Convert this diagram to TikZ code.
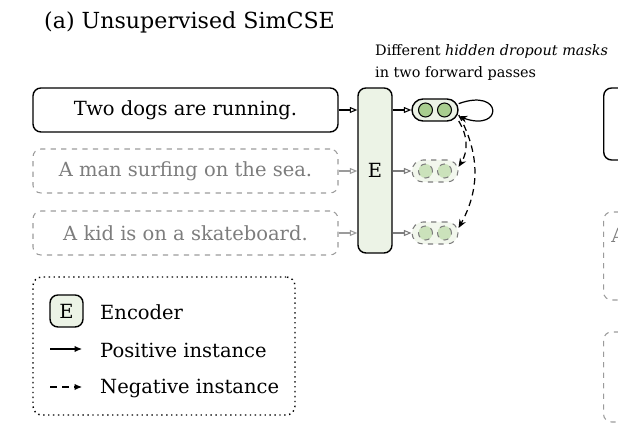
\documentclass[tikz,border=0pt]{standalone}
\usepackage{fontspec}
\setmainfont{DejaVu Serif}
\usetikzlibrary{arrows.meta,positioning,calc}
\definecolor{encgreen}{RGB}{236,243,230}
\definecolor{dotgreen}{RGB}{168,206,142}
\definecolor{softgray}{RGB}{125,125,125}
\definecolor{linegray}{RGB}{155,155,155}

\begin{document}
\begin{tikzpicture}[>={Stealth[length=1.7mm,width=1.4mm]}, every node/.style={font=\fontsize{11.1}{13}\selectfont},
 sent/.style={draw,line width=0.8pt,rounded corners=4.5pt,minimum width=6.1cm,minimum height=0.88cm},
 negsent/.style={sent,draw=linegray,line width=0.6pt,dashed,text=softgray},
 enc/.style={draw,line width=0.8pt,rounded corners=4.5pt,fill=encgreen,inner sep=0pt},
 pill/.style={draw,line width=0.8pt,rounded corners=0.22cm,fill=encgreen,minimum width=0.92cm,minimum height=0.44cm,inner sep=0pt},
 negpill/.style={pill,draw=softgray,line width=0.6pt,dashed,fill=encgreen!70},
 dot/.style={circle,draw,line width=0.6pt,fill=dotgreen,minimum size=0.28cm,inner sep=0pt},
 negdot/.style={dot,draw=softgray,dashed,fill=dotgreen!60},
 feed/.style={-{Triangle[open,length=1.5mm,width=1.2mm]},line width=0.6pt},
 legarrow/.style={-{Latex[length=1.5mm,width=1.3mm]},line width=0.6pt}]
\useasboundingbox (0,0) rectangle (12.36,8.58);
\node[anchor=west,font=\fontsize{12.6}{15}\selectfont] (title) at (0.76,8.14) {(a) Unsupervised SimCSE};
\node[sent] (s1) at (3.71,6.38) {Two dogs are running.};
\node[negsent] (s2) at (3.71,5.16) {A man surfing on the sea.};
\node[negsent] (s3) at (3.71,3.92) {A kid is on a skateboard.};
\node[enc,minimum width=0.68cm,minimum height=3.3cm] (enc) at (7.5,5.17) {E};
\node[pill] (p1) at (8.7,6.38) {};
\node[negpill] (p2) at (8.7,5.16) {};
\node[negpill] (p3) at (8.7,3.92) {};
\node[dot] (p1a) at ($(p1)+(-0.19,0)$) {};
\node[dot] (p1b) at ($(p1)+(0.19,0)$) {};
\node[negdot] (p2a) at ($(p2)+(-0.19,0)$) {};
\node[negdot] (p2b) at ($(p2)+(0.19,0)$) {};
\node[negdot] (p3a) at ($(p3)+(-0.19,0)$) {};
\node[negdot] (p3b) at ($(p3)+(0.19,0)$) {};
\node[anchor=west,align=left,font=\fontsize{8.2}{12}\selectfont] (note) at (7.38,7.33)
 {Different \textit{hidden dropout masks}\\in two forward passes};
\draw[feed] (s1) -- (s1 -| enc.west);
\draw[feed,linegray] (s2) -- (s2 -| enc.west);
\draw[feed,linegray] (s3) -- (s3 -| enc.west);
\draw[feed] (enc.east |- p1) -- (p1);
\draw[feed,softgray] (enc.east |- p2) -- (p2);
\draw[feed,softgray] (enc.east |- p3) -- (p3);
\draw[->,line width=0.7pt] (p1.15) .. controls +(20:0.95) and +(-20:0.95) .. (p1.-15);
\draw[->,line width=0.7pt,dash pattern=on 1.3mm off 0.9mm] (p1.-25) to[bend left=32] (p2.10);
\draw[->,line width=0.7pt,dash pattern=on 1.3mm off 0.9mm] (p1.-12) to[bend left=29] (p3.12);
\node[sent,anchor=west,minimum width=3cm,minimum height=1.44cm] (b1) at (12.06,6.1) {};
\node[negsent,anchor=west,minimum width=3cm,minimum height=1.76cm] (b2) at (12.06,3.46) {};
\node[negsent,anchor=west,minimum width=3cm,minimum height=1.8cm] (b3) at (12.06,1.04) {};
\node[anchor=west,text=softgray,inner sep=0pt] (b2txt) at (12.22,3.88) {A};
\node[draw,dotted,line width=0.8pt,rounded corners=5pt,minimum width=5.24cm,minimum height=2.76cm] (legend) at (3.28,1.66) {};
\node[enc,minimum width=0.66cm,minimum height=0.64cm] (encl) at (1.33,2.36) {E};
\node[anchor=west] (enclab) at (1.88,2.34) {Encoder};
\node[anchor=west] (poslab) at (1.88,1.58) {Positive instance};
\node[anchor=west] (neglab) at (1.88,0.82) {Negative instance};
\coordinate (posa) at (1.0,1.6);
\coordinate (posb) at (1.64,1.6);
\coordinate (nega) at (1.0,0.84);
\coordinate (negb) at (1.64,0.84);
\draw[legarrow] (posa) -- (posb);
\draw[legarrow,dash pattern=on 1.4mm off 1mm] (nega) -- (negb);
\end{tikzpicture}
\end{document}
